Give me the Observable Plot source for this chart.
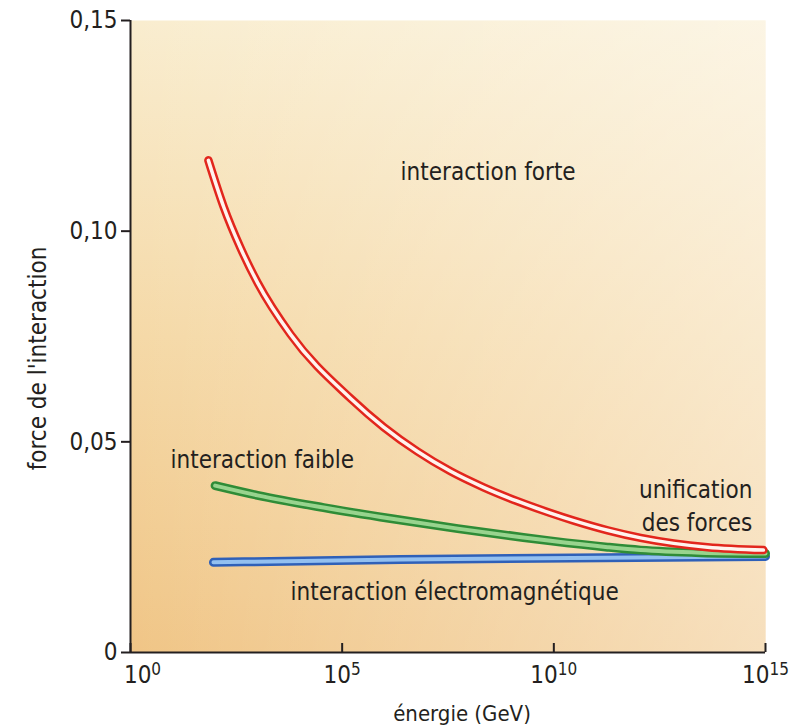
<!DOCTYPE html>
<html>
<head>
<meta charset="utf-8">
<script src="https://cdn.jsdelivr.net/npm/d3@7"></script>
<script src="https://cdn.jsdelivr.net/npm/@observablehq/plot@0.6"></script>
<style>
  html, body { margin: 0; padding: 0; background: #ffffff; }
  #chart { width: 800px; height: 725px; }
</style>
</head>
<body>
<div id="chart"></div>
<script>
// ---- data (log10 of energy in GeV, coupling strength) ----
const forteLogE = [1.84, 2.2, 2.6, 3.0, 3.78, 5.2, 5.98, 6.78, 7.56, 8.34, 9.14, 9.92, 10.47, 11.27, 12.05, 12.83, 13.63, 14.95];
const forteVal  = [0.1168, 0.1058, 0.0960, 0.0878, 0.0755, 0.0603, 0.0535, 0.0477, 0.0430, 0.0392, 0.0359, 0.0331, 0.0313, 0.0290, 0.0272, 0.0259, 0.0250, 0.0243];

const faibleLogE = [2.0, 3.0, 4.56, 6.14, 7.73, 9.28, 9.92, 11.27, 12.05, 13.47, 15.0];
const faibleVal  = [0.0396, 0.0373, 0.0344, 0.0318, 0.0294, 0.0273, 0.0265, 0.0250, 0.0243, 0.0237, 0.0235];

const emLogE = [1.96, 6.38, 15.0];
const emVal  = [0.0214, 0.0221, 0.0228];

const xTickExp = [0, 5, 10, 15];
const yTicks = [0, 0.05, 0.10, 0.15];

const labelTexts = ["interaction forte", "interaction faible", "interaction électromagnétique"];
const labelLogE  = [6.38, 0.945, 3.78];
const labelVal   = [0.1139, 0.0456, 0.01424];

const unifText = "unification\ndes forces";
const unifLogE = 14.69;
const unifVal = 0.0352;

const xTitle = "énergie (GeV)";
const yTitle = "force de l'interaction";

// ---- build tables ----
const toRows = (ks, vs) => ks.map((k, i) => ({E: Math.pow(10, k), v: vs[i]}));
const forte = toRows(forteLogE, forteVal);
const faible = toRows(faibleLogE, faibleVal);
const em = toRows(emLogE, emVal);
const labels = labelTexts.map((t, i) => ({t, E: Math.pow(10, labelLogE[i]), v: labelVal[i]}));
const xTicks = xTickExp.map(e => Math.pow(10, e));
const fmtX = d => "10^" + Math.round(Math.log10(d));
const fmtY = d => d === 0 ? "0" : d.toFixed(2).replace(".", ",");

const ink = "#231f20";
const font = "'DejaVu Sans Condensed', 'DejaVu Sans', sans-serif";

function tube(data, outer, inner, wOuter, wInner) {
  return [
    Plot.line(data, {x: "E", y: "v", stroke: outer, strokeWidth: wOuter, curve: "monotone-x", strokeLinecap: "round"}),
    Plot.line(data, {x: "E", y: "v", stroke: inner, strokeWidth: wInner, curve: "monotone-x", strokeLinecap: "round"})
  ];
}

const chart = Plot.plot({
  width: 800,
  height: 725,
  marginLeft: 130,
  marginRight: 35,
  marginTop: 20,
  marginBottom: 73,
  style: {fontFamily: font, fontSize: "24px", color: ink, background: "transparent"},
  x: {type: "log", domain: [1, 1e15]},
  y: {domain: [0, 0.15]},
  marks: [
    Plot.frame({fill: "url(#bgv)", stroke: null}),
    Plot.frame({fill: "url(#bgh)", stroke: null}),
    ...tube(em, "#2f60b8", "#93c0f0", 9, 4),
    ...tube(faible, "#2f8c37", "#98d48e", 9, 4),
    ...tube(forte, "#e2261d", "#fff3ee", 8.5, 3.5),
    Plot.ruleY([0], {stroke: ink, strokeWidth: 2}),
    Plot.ruleX([1], {stroke: ink, strokeWidth: 2}),
    Plot.axisX({ticks: xTicks, tickSize: -9, tickFormat: () => "", strokeWidth: 2, stroke: ink, label: null}),
    Plot.axisX({ticks: xTicks, tickSize: 0, tickPadding: 13, tickFormat: fmtX, fontSize: 24, fill: ink, label: null}),
    Plot.axisY({ticks: yTicks, tickSize: 9, tickPadding: 4, tickFormat: fmtY, strokeWidth: 2, stroke: ink, fontSize: 24, fill: ink, label: null}),
    Plot.text(labels, {x: "E", y: "v", text: "t", textAnchor: "start", fontSize: 24, fill: ink}),
    Plot.text([unifText], {x: [Math.pow(10, unifLogE)], y: [unifVal], text: d => d, textAnchor: "end", lineHeight: 1.38, fontSize: 24, fill: ink}),
    Plot.text([xTitle], {frameAnchor: "bottom", dy: 68, dx: 14, fontSize: 22, fill: ink}),
    Plot.text([yTitle], {frameAnchor: "left", textAnchor: "middle", rotate: -90, dx: -92, dy: 22, fontSize: 24, fill: ink})
  ]
});

d3.select(chart).insert("defs", ":first-child").html(`
  <linearGradient id="bgv" x1="0" y1="0" x2="0" y2="1">
    <stop offset="0" stop-color="#f9edcf"/>
    <stop offset="0.5" stop-color="#f5d9a7"/>
    <stop offset="1" stop-color="#f0c586"/>
  </linearGradient>
  <linearGradient id="bgh" x1="0" y1="0" x2="1" y2="0">
    <stop offset="0" stop-color="#ffffff" stop-opacity="0"/>
    <stop offset="1" stop-color="#ffffff" stop-opacity="0.45"/>
  </linearGradient>
`);

// render "10^n" tick labels with a true superscript
d3.select(chart).selectAll("text").each(function (d, i) {
  const t = this.textContent;
  const m = /^10\^(\d+)$/.exec(t);
  if (!m) return;
  this.textContent = "";
  d3.select(this).append("tspan").text("10");
  d3.select(this).append("tspan").attr("dy", "-0.45em").attr("font-size", "17px").text(m[1]);
  if (m[1] === "0") d3.select(this).attr("dx", 12);
});

document.getElementById("chart").appendChild(chart);
</script>
</body>
</html>
